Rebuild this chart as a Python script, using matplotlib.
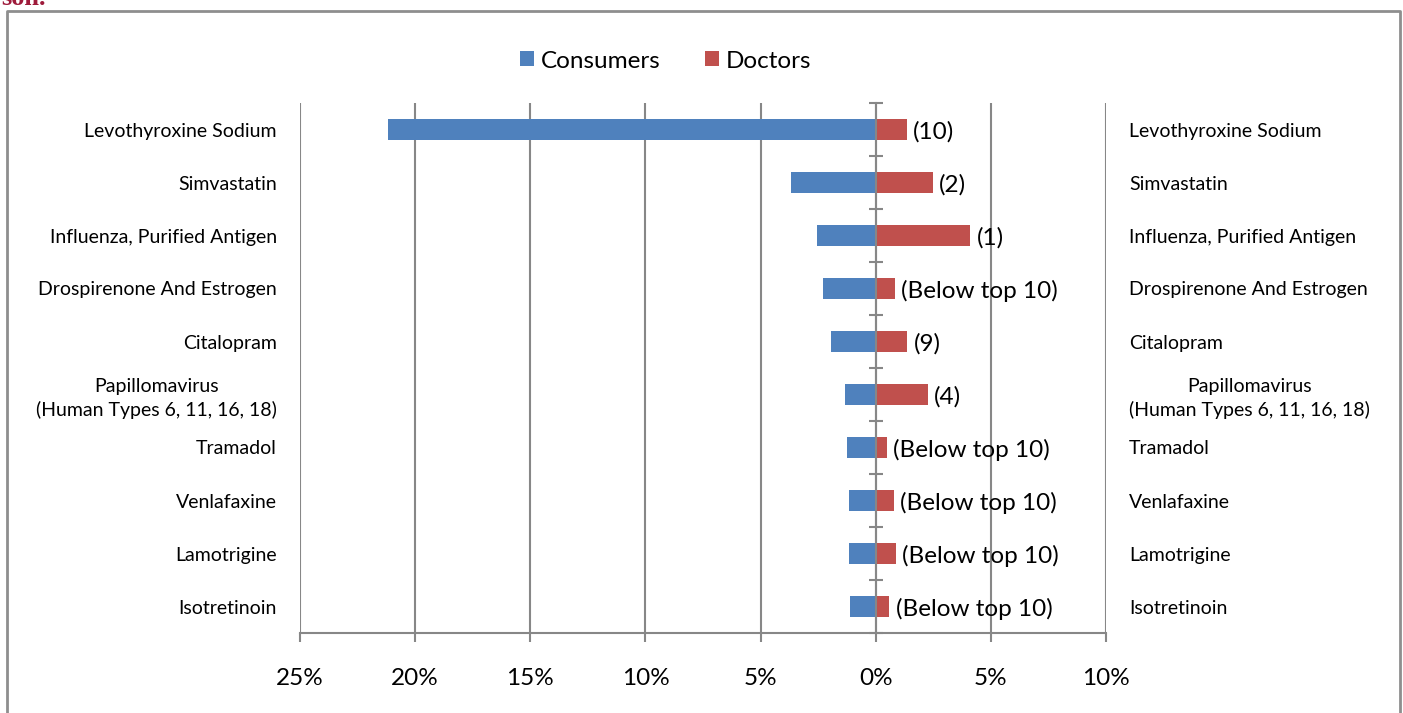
import numpy as np
import matplotlib
matplotlib.use("Agg")
import matplotlib.pyplot as plt
from matplotlib.patches import Patch
from matplotlib.lines import Line2D
from matplotlib.ticker import FuncFormatter, FixedLocator

# Share of searches by drug (%), consumers vs. doctors
drugs = [
    "Levothyroxine Sodium",
    "Simvastatin",
    "Influenza, Purified Antigen",
    "Drospirenone And Estrogen",
    "Citalopram",
    "Papillomavirus\n(Human Types 6, 11, 16, 18)",
    "Tramadol",
    "Venlafaxine",
    "Lamotrigine",
    "Isotretinoin",
]
consumers = [21.2, 3.7, 2.57, 2.31, 1.92, 1.34, 1.23, 1.15, 1.15, 1.10]
doctors = [1.34, 2.48, 4.11, 0.83, 1.37, 2.25, 0.49, 0.79, 0.87, 0.59]
doctor_rank = ["(10)", "(2)", "(1)", "(Below top 10)", "(9)", "(4)",
               "(Below top 10)", "(Below top 10)", "(Below top 10)", "(Below top 10)"]
x_ticks = [-25, -20, -15, -10, -5, 0, 5, 10]
series_names = ["Consumers", "Doctors"]

BLUE = "#4F81BD"
RED = "#C0504D"
GRID = "#878787"
FONT = "Lato"
BIG = 17.5
SMALL = 14

W, H = 1403, 713
fig = plt.figure(figsize=(W / 100, H / 100), dpi=100)
fig.patch.set_facecolor("white")

# axes box in pixel coordinates
L, R, T, B = 300, 1106, 103, 633
ax = fig.add_axes([L / W, (H - B) / H, (R - L) / W, (B - T) / H])

y = np.arange(len(drugs))
bh = 0.39
ax.barh(y, -np.array(consumers), height=bh, color=BLUE, zorder=3)
ax.barh(y, doctors, height=bh, color=RED, zorder=3)

ax.set_xlim(-25, 10)
ax.set_ylim(len(drugs) - 0.5, -0.5)

# x axis: gridlines at every tick, absolute-value percentage labels
ax.xaxis.set_major_locator(FixedLocator(x_ticks))
ax.xaxis.set_major_formatter(FuncFormatter(lambda v, p: f"{abs(v):.0f}%"))
ax.grid(axis="x", color=GRID, linewidth=1.5, zorder=1)
ax.tick_params(axis="x", direction="out", length=6.5, width=1.5, color=GRID,
               pad=19, labelsize=BIG, labelfontfamily=FONT)

# vertical category axis sits at 0 with cross ticks between categories
for side in ("top", "right"):
    ax.spines[side].set_visible(False)
ax.spines["bottom"].set_color(GRID)
ax.spines["bottom"].set_linewidth(1.5)
ax.spines["left"].set_position(("data", 0))
ax.spines["left"].set_color(GRID)
ax.spines["left"].set_linewidth(1.5)
ax.spines["left"].set_zorder(4)
ax.yaxis.set_major_locator(FixedLocator(np.arange(len(drugs) + 1) - 0.5))
ax.tick_params(axis="y", direction="inout", length=10, width=1.5, color=GRID,
               labelleft=False)

# category names on both sides
yt = ax.get_yaxis_transform()
for yi, name in zip(y, drugs):
    for xa, ha in ((-23 / (R - L), "right"), (1 + 23 / (R - L), "left")):
        ax.text(xa, yi, name, transform=yt, ha=ha, va="center_baseline",
                multialignment="center", fontsize=SMALL, family=FONT,
                linespacing=1.38)

# doctor rank next to each red bar
for yi, v, lab in zip(y, doctors, doctor_rank):
    ax.annotate(lab, (v, yi), xytext=(4.5, 0), textcoords="offset points",
                ha="left", va="center_baseline", fontsize=BIG, family=FONT, zorder=5)

# legend
fpx = BIG * 100 / 72
handles = [Patch(facecolor=BLUE), Patch(facecolor=RED)]
leg = fig.legend(handles, series_names, loc="center", bbox_to_anchor=(666 / W, 1 - 61 / H),
                 ncol=2, frameon=False, prop={"family": FONT, "size": BIG},
                 handlelength=14 / fpx, handleheight=14 / fpx,
                 handletextpad=7 / fpx, columnspacing=44 / fpx)

# outer frame
fr = dict(color="#8E8E8E", linewidth=2, transform=fig.transFigure)
fig.add_artist(Line2D([7 / W, 7 / W, 1400 / W, 1400 / W],
                      [0, 1 - 11 / H, 1 - 11 / H, 0], **fr))

# caption fragment above the frame
fig.text(1 / W, 1 - 5 / H, "son.", color="#9E1B3B", fontsize=19, weight="bold",
         family="Liberation Serif", ha="left", va="baseline")

fig.savefig("out.png", dpi=100)
